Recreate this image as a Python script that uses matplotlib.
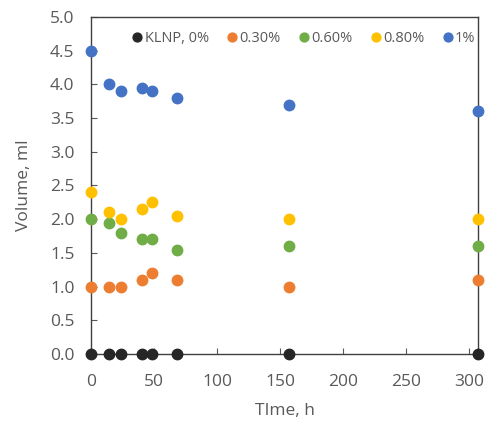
import matplotlib
matplotlib.use('Agg')
import matplotlib.pyplot as plt

plt.rcParams['font.family'] = ['Open Sans', 'DejaVu Sans']

# Data
time_h = [0, 14, 24, 40, 48, 68, 157, 307]
klnp_0 = [0, 0, 0, 0, 0, 0, 0, 0]
conc_030 = [1.0, 1.0, 1.0, 1.1, 1.2, 1.1, 1.0, 1.1]
conc_060 = [2.0, 1.95, 1.8, 1.7, 1.7, 1.55, 1.6, 1.6]
conc_080 = [2.4, 2.1, 2.0, 2.15, 2.25, 2.05, 2.0, 2.0]
conc_1 = [4.5, 4.0, 3.9, 3.95, 3.9, 3.8, 3.7, 3.6]

series = [
    ('KLNP, 0%', klnp_0, '#262626'),
    ('0.30%', conc_030, '#ED7D31'),
    ('0.60%', conc_060, '#70AD47'),
    ('0.80%', conc_080, '#FFC000'),
    ('1%', conc_1, '#4472C4'),
]

grey = '#595959'

fig = plt.figure(figsize=(4.9, 4.22), dpi=100)
ax = fig.add_axes([0.186, 0.161, 0.79, 0.799])

for label, vals, col in series:
    ax.plot(time_h, vals, 'o', color=col, markersize=7.5, label=label,
            clip_on=False, zorder=3)

ax.set_xlim(0, 307)
ax.set_ylim(0, 5)
ax.set_xticks(range(0, 301, 50))
ax.set_yticks([i * 0.5 for i in range(11)])
ax.yaxis.set_major_formatter(matplotlib.ticker.FormatStrFormatter('%.1f'))

ax.tick_params(direction='in', length=4, colors=grey, labelsize=12.5)
ax.tick_params(axis='y', pad=12)
ax.tick_params(axis='x', pad=14)
for sp in ax.spines.values():
    sp.set_color('#404040')
    sp.set_linewidth(1.0)

ax.set_xlabel('TIme, h', fontsize=12.5, color=grey, labelpad=10)
ax.set_ylabel('Volume, ml', fontsize=12.5, color=grey, labelpad=13)

leg = ax.legend(loc='upper center', bbox_to_anchor=(0.545, 0.985), ncol=5,
                frameon=False, fontsize=10.5, handletextpad=-0.1,
                columnspacing=1.0, markerscale=0.85, handlelength=1.2,
                borderaxespad=0.2)
for t in leg.get_texts():
    t.set_color(grey)

fig.savefig('out.png', dpi=100)
